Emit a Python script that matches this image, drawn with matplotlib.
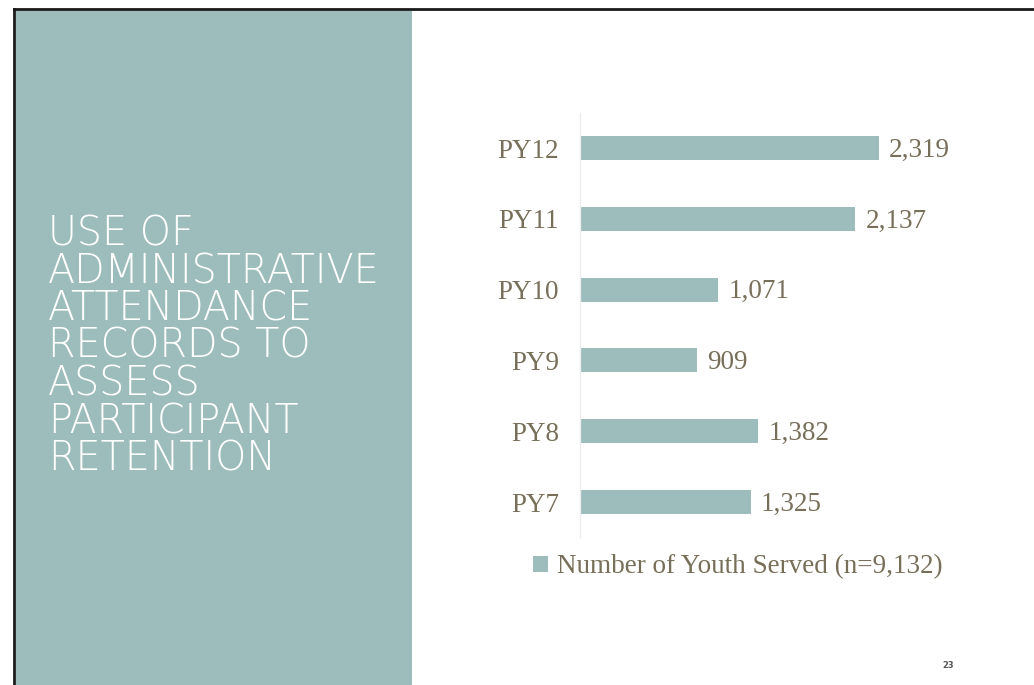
import matplotlib
matplotlib.use("Agg")
import matplotlib.pyplot as plt
from matplotlib.patches import Rectangle
from matplotlib.lines import Line2D

# Data
years = ["PY7", "PY8", "PY9", "PY10", "PY11", "PY12"]
youth_served = [1325, 1382, 909, 1071, 2137, 2319]
series_label = "Number of Youth Served (n=9,132)"
title_lines = ["USE OF", "ADMINISTRATIVE", "ATTENDANCE", "RECORDS TO",
               "ASSESS", "PARTICIPANT", "RETENTION"]
page_number = "23"

TEAL = "#9dbdbc"
TEXT = "#776f59"
W, H = 1034, 685

fig = plt.figure(figsize=(W / 100, H / 100), dpi=100)
fig.patch.set_facecolor("white")

# Left title panel and slide border
fig.add_artist(Rectangle((16 / W, 0), (412 - 16) / W, (H - 11) / H,
                         transform=fig.transFigure, facecolor=TEAL,
                         edgecolor="none", zorder=0))
fig.add_artist(Line2D([14 / W, 14 / W], [0, (H - 9) / H],
                      transform=fig.transFigure, color="#1a1a1a", lw=2.0))
fig.add_artist(Line2D([14 / W, 1 / 1], [(H - 9) / H, (H - 9) / H],
                      transform=fig.transFigure, color="#1a1a1a", lw=2.0))

for i, line in enumerate(title_lines):
    y = 234 + i * 37.5
    fig.text(48 / W, 1 - y / H, line, color="white", fontsize=28.5,
             family="DejaVu Sans", fontweight="light", va="center",
             ha="left")

# Bar chart axes
left, right = 580, 902
top, bottom = 112.6, 537.4
ax = fig.add_axes([left / W, 1 - bottom / H, (right - left) / W,
                   (bottom - top) / H])
ax.set_facecolor("none")
bars = ax.barh(years, youth_served, height=0.34, color=TEAL,
               label=series_label)
ax.set_xlim(0, 2500)
ax.set_ylim(-0.5, len(years) - 0.5)

for s in ["top", "right", "bottom"]:
    ax.spines[s].set_visible(False)
ax.spines["left"].set_color("#ececec")
ax.spines["left"].set_linewidth(1.0)
ax.set_xticks([])
ax.tick_params(axis="y", length=0, pad=15, labelsize=19.5,
               labelcolor=TEXT)
for lbl in ax.get_yticklabels():
    lbl.set_family("Liberation Serif")

for bar, v in zip(bars, youth_served):
    ax.text(bar.get_width() + 80, bar.get_y() + bar.get_height() / 2 - 0.03,
            f"{v:,}", va="center", ha="left", fontsize=19.5,
            color=TEXT, family="Liberation Serif")

leg = fig.legend(handles=[bars], labels=[series_label],
                 loc="center", bbox_to_anchor=(738 / W, 1 - 567 / H),
                 frameon=False, handlelength=0.55, handleheight=0.55,
                 handletextpad=0.35, borderpad=0,
                 prop={"family": "Liberation Serif", "size": 19.5})
for t in leg.get_texts():
    t.set_color(TEXT)

fig.text(948 / W, 1 - 665 / H, page_number, fontsize=6, color="#555555",
         fontweight="bold", ha="center", va="center", family="DejaVu Sans")

fig.savefig("out.png", dpi=100)
